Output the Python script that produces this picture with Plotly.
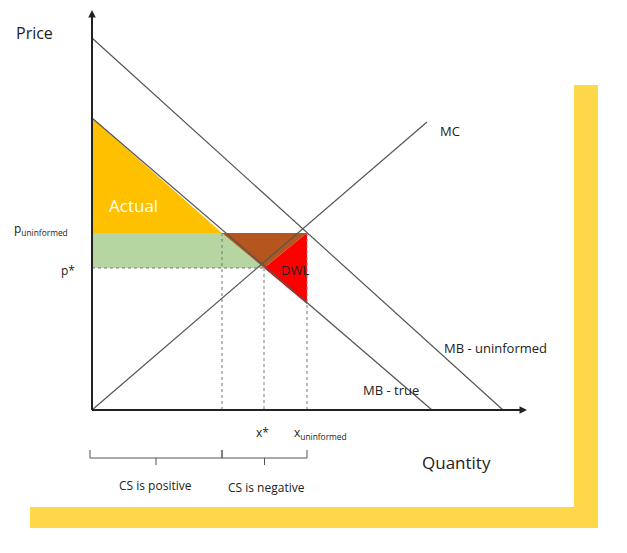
import plotly.graph_objects as go

# geometry in picture pixel coordinates (x right, y down)
mb_uninf = ([92, 503], [38, 410])
mb_true = ([92, 432], [118, 410])
mc_line = ([92, 427], [410, 122])
p_uninf, p_star = 233, 268
x_pos_end, x_star, x_uninf = 222, 264, 307

actual_x = [92, 222, 92]
actual_y = [118, 233, 233]
green_x = [92, 222, 264, 92]
green_y = [233, 233, 268, 268]
brown_x = [222, 307, 264]
brown_y = [233, 233, 268]
dwl_x = [264, 307, 307]
dwl_y = [268, 233, 304]

W, H = 627, 553
PAD = 8  # page body margin
fig = go.Figure()

def poly(xs, ys, color):
    fig.add_trace(go.Scatter(x=xs + xs[:1], y=ys + ys[:1], fill="toself", fillcolor=color,
                             mode="lines", line=dict(width=0), hoverinfo="skip"))

poly(actual_x, actual_y, "#FFC000")
poly(green_x, green_y, "#B5D6A0")
poly(brown_x, brown_y, "#B5561F")
poly(dwl_x, dwl_y, "#FF0000")

for xs, ys in (mb_uninf, mb_true, mc_line):
    fig.add_trace(go.Scatter(x=xs, y=ys, mode="lines", line=dict(color="#555", width=1.2),
                             hoverinfo="skip"))

shapes = [
    dict(type="rect", x0=574, x1=598, y0=85, y1=528, fillcolor="#FFD84A", line_width=0, layer="below"),
    dict(type="rect", x0=30, x1=598, y0=507, y1=528, fillcolor="#FFD84A", line_width=0, layer="below"),
    dict(type="rect", x0=0, x1=574, y0=0, y1=507, fillcolor="white", line_width=0, layer="below"),
]
dot = dict(color="#777", width=1, dash="dot")
for xv, y0 in ((x_pos_end, p_uninf), (x_star, p_star), (x_uninf, p_uninf)):
    shapes.append(dict(type="line", x0=xv, x1=xv, y0=y0, y1=410, line=dot))
shapes.append(dict(type="line", x0=92, x1=x_star, y0=p_star, y1=p_star, line=dot))
# axes
shapes.append(dict(type="line", x0=92, x1=92, y0=410, y1=14, line=dict(color="#222", width=2)))
shapes.append(dict(type="line", x0=92, x1=522, y0=410, y1=410, line=dict(color="#222", width=2)))
# braces
br = dict(color="#555", width=1)
for a, b in ((90, x_pos_end), (x_pos_end, x_uninf)):
    m = (a + b) / 2
    shapes += [dict(type="line", x0=a, x1=b, y0=458, y1=458, line=br),
               dict(type="line", x0=a, x1=a, y0=450, y1=458, line=br),
               dict(type="line", x0=b, x1=b, y0=450, y1=458, line=br),
               dict(type="line", x0=m, x1=m, y0=458, y1=465, line=br)]

ann = []
def txt(x, y, t, size=13, color="#222", anchor="center"):
    ann.append(dict(x=x, y=y, text=t, showarrow=False, xanchor=anchor,
                    font=dict(size=size, color=color, family="Open Sans, Arial")))

txt(14, 33, "Price", 16, anchor="left")
txt(420, 462, "Quantity", 17, anchor="left")
txt(438, 131, "MC", 13, anchor="left")
txt(442, 348, "MB - uninformed", 13, anchor="left")
txt(361, 390, "MB - true", 13, anchor="left")
txt(133, 205, "Actual", 17, "white")
txt(279, 270, "DWL", 13, anchor="left")
txt(12, 229, "p<sub>uninformed</sub>", 12, anchor="left")
txt(68, 270, "p*", 12)
txt(262, 432, "x*", 12)
txt(292, 433, "x<sub>uninformed</sub>", 12, anchor="left")
txt(155, 485, "CS is positive", 12)
txt(266, 487, "CS is negative", 12)
ann.append(dict(x=92, y=10, ax=92, ay=40, xref="x", yref="y", axref="x", ayref="y",
                showarrow=True, arrowhead=2, arrowsize=1, arrowwidth=1.5, arrowcolor="#222", text=""))
ann.append(dict(x=527, y=410, ax=500, ay=410, xref="x", yref="y", axref="x", ayref="y",
                showarrow=True, arrowhead=2, arrowsize=1, arrowwidth=1.5, arrowcolor="#222", text=""))

fig.update_layout(width=W - 2 * PAD, height=H - 2 * PAD, margin=dict(l=0, r=0, t=0, b=0),
                  showlegend=False, plot_bgcolor="white", paper_bgcolor="white",
                  shapes=shapes, annotations=ann,
                  xaxis=dict(range=[PAD, W - PAD], visible=False, fixedrange=True),
                  yaxis=dict(range=[H - PAD, PAD], visible=False, fixedrange=True))
fig.write_html("out.html")
